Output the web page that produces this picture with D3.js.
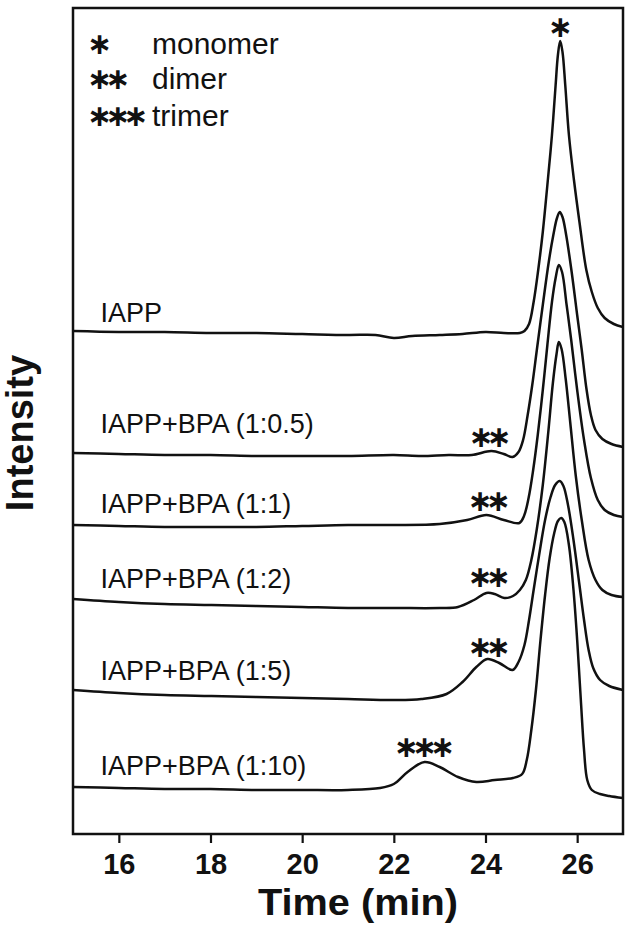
<!DOCTYPE html>
<html>
<head>
<meta charset="utf-8">
<script src="https://cdn.jsdelivr.net/npm/d3@7"></script>
<style>
  body { margin: 0; background: #fff; }
  text { font-family: "Liberation Sans", Arial, sans-serif; fill: #111; }
</style>
</head>
<body>
<div id="chart"></div>
<script>
// chromatogram traces, [time (min), intensity (a.u., stacked offset)]
const seriesNames = ["IAPP", "IAPP+BPA (1:0.5)", "IAPP+BPA (1:1)", "IAPP+BPA (1:2)", "IAPP+BPA (1:5)", "IAPP+BPA (1:10)"];

const iapp = [[15,50.3],[16,50.2],[17,50.2],[18,50.1],[19,50.1],[20,50.0],[21,49.9],[21.6,49.9],[22,49.6],[22.4,49.8],[23,49.9],[23.5,50.0],[24,50.2],[24.4,50.1],[24.75,50.1],[24.85,50.3],[24.95,51.0],[25.05,53.2],[25.15,56.4],[25.25,60.2],[25.35,64.9],[25.45,69.9],[25.53,74.9],[25.58,77.9],[25.63,79.3],[25.68,78.2],[25.74,74.9],[25.82,69.9],[25.93,65.4],[26.05,61.2],[26.2,56.4],[26.32,54.2],[26.45,52.6],[26.6,51.6],[26.8,51.0],[27,50.7]];

const bpa05 = [[15,38.1],[16,38.0],[17,37.9],[18,37.9],[19,37.8],[20,37.8],[21,37.8],[22,37.9],[22.6,37.8],[23.2,37.9],[23.7,37.9],[24.13,38.3],[24.4,38.0],[24.59,37.7],[24.72,38.2],[24.82,39.4],[24.92,41.9],[25.02,44.9],[25.12,48.4],[25.25,52.9],[25.38,57.2],[25.48,59.9],[25.56,61.6],[25.62,62.2],[25.68,61.7],[25.76,59.9],[25.88,56.2],[26,51.9],[26.1,48.4],[26.2,44.6],[26.3,41.9],[26.4,40.4],[26.55,39.5],[26.75,39.0],[27,38.7]];

const bpa1 = [[15,30.9],[16,30.8],[17,30.7],[18,30.7],[19,30.7],[20,30.8],[21,30.9],[22,30.9],[23,31.0],[23.6,31.4],[24.02,31.9],[24.4,31.4],[24.74,31.1],[24.84,31.8],[24.94,33.6],[25.04,36.4],[25.14,39.9],[25.25,44.4],[25.35,48.9],[25.45,53.2],[25.53,55.6],[25.6,56.9],[25.67,56.2],[25.77,52.9],[25.87,49.4],[26,44.4],[26.15,39.4],[26.3,35.6],[26.45,33.4],[26.6,32.4],[26.8,31.9],[27,31.7]];

const bpa2 = [[15,23.5],[16,23.2],[17,23.0],[18,22.9],[19,22.8],[20,22.7],[21,22.6],[22,22.6],[23,22.6],[23.4,22.7],[23.75,23.4],[24.02,24.1],[24.2,24.0],[24.41,23.6],[24.6,23.8],[24.75,24.4],[24.88,25.4],[25,27.4],[25.12,30.5],[25.25,34.9],[25.37,40.2],[25.47,45.1],[25.55,48.0],[25.6,49.2],[25.66,48.5],[25.75,45.5],[25.85,41.1],[25.97,35.8],[26.1,31.4],[26.25,27.4],[26.4,25.4],[26.55,24.4],[26.75,23.9],[27,23.7]];

const bpa5 = [[15,14.4],[16,14.1],[17,13.9],[18,13.8],[19,13.7],[20,13.6],[21,13.5],[22,13.4],[22.6,13.5],[23.15,14.0],[23.5,15.2],[23.8,16.7],[24.04,17.5],[24.3,17.1],[24.59,16.4],[24.72,17.2],[24.85,18.9],[24.95,21.4],[25.05,24.4],[25.17,27.9],[25.3,31.4],[25.42,33.7],[25.52,34.9],[25.62,35.3],[25.7,34.8],[25.8,32.9],[25.92,29.4],[26.05,24.9],[26.15,21.4],[26.25,18.4],[26.35,16.6],[26.5,15.4],[26.7,14.8],[27,14.4]];

const bpa10 = [[15,4.7],[16,4.6],[17,4.5],[18,4.5],[19,4.4],[20,4.4],[21,4.4],[21.7,4.6],[22,5.0],[22.3,6.2],[22.67,7.2],[23,6.7],[23.4,5.7],[23.8,5.2],[24.2,5.4],[24.6,5.6],[24.8,6.0],[24.9,7.4],[25,10.4],[25.1,14.4],[25.2,19.4],[25.3,23.9],[25.4,27.6],[25.5,30.1],[25.58,31.3],[25.65,31.6],[25.72,31.2],[25.82,28.9],[25.92,24.4],[26,19.4],[26.08,13.4],[26.15,8.4],[26.22,5.4],[26.32,4.4],[26.5,4.0],[26.7,3.8],[27,3.6]];

const series = [iapp, bpa05, bpa1, bpa2, bpa5, bpa10];

// where each trace's name sits (time, intensity of text baseline)
const labelAnchors = [[15.6,51.2],[15.6,40.1],[15.6,32.1],[15.6,24.6],[15.6,15.4],[15.6,5.9]];

// peak markers (time, intensity of glyph centre)
const peakMarks = [["∗",25.63,80.6],["∗∗",24.1,39.6],["∗∗",24.08,33.2],["∗∗",24.08,25.6],["∗∗",24.08,18.6],["∗∗∗",22.67,8.6]];

const legendMarks = ["∗", "∗∗", "∗∗∗"];
const legendNames = ["monomer", "dimer", "trimer"];

const xTicks = [16, 18, 20, 22, 24, 26];

const width = 633, height = 936;
const margin = { top: 8, right: 10, bottom: 102, left: 73 };
const plotW = width - margin.left - margin.right;
const plotH = height - margin.top - margin.bottom;

const xScale = d3.scaleLinear().domain([15, 27]).range([0, plotW]);
const yScale = d3.scaleLinear().domain([0, 82.6]).range([plotH, 0]);

const svg = d3.select("#chart").append("svg")
    .attr("width", width)
    .attr("height", height);

const g = svg.append("g")
    .attr("transform", "translate(" + margin.left + "," + margin.top + ")");

g.append("clipPath").attr("id", "plotclip")
    .append("rect").attr("width", plotW).attr("height", plotH);

// x axis
const xAxis = g.append("g")
    .attr("transform", "translate(0," + plotH + ")")
    .call(d3.axisBottom(xScale).tickValues(xTicks).tickSize(9).tickSizeOuter(0).tickPadding(10));
xAxis.select(".domain").remove();
xAxis.selectAll(".tick line").attr("stroke", "#111").attr("stroke-width", 2.2);
xAxis.selectAll(".tick text")
    .style("font-family", "'Liberation Sans', Arial, sans-serif")
    .style("font-size", "29px").style("font-weight", "bold").attr("fill", "#111");

var line = d3.line()
    .x(d => xScale(d[0]))
    .y(d => yScale(d[1]))
    .curve(d3.curveCatmullRom.alpha(0.5));

g.append("g").attr("clip-path", "url(#plotclip)")
    .selectAll("path")
    .data(series)
    .join("path")
    .attr("d", line)
    .attr("fill", "none")
    .attr("stroke", "#111")
    .attr("stroke-width", 2.5)
    .attr("stroke-linejoin", "round");

// frame
g.append("rect")
    .attr("width", plotW).attr("height", plotH)
    .attr("fill", "none").attr("stroke", "#111").attr("stroke-width", 2.5);

// trace names
g.selectAll("text.name")
    .data(seriesNames)
    .join("text")
    .attr("class", "name")
    .attr("x", (d, i) => xScale(labelAnchors[i][0]))
    .attr("y", (d, i) => yScale(labelAnchors[i][1]))
    .style("font-size", "27px")
    .text(d => d);

// asterisks: DejaVu's six-armed glyph, centred about 0.3em above the baseline
const starSize = 30, starGap = -7;
function starText(sel) {
    sel.style("font-family", "'DejaVu Sans', sans-serif")
        .style("font-size", starSize + "px")
        .style("font-weight", "bold")
        .style("letter-spacing", starGap + "px");
}

g.selectAll("text.peak")
    .data(peakMarks)
    .join("text")
    .attr("class", "peak")
    .attr("x", d => xScale(d[1]) + starGap / 2)
    .attr("y", d => yScale(d[2]) + starSize * 0.3)
    .attr("text-anchor", "middle")
    .call(starText)
    .text(d => d[0]);

// legend
const legendRows = [37, 72, 109];
g.selectAll("text.legmark")
    .data(legendMarks)
    .join("text")
    .attr("class", "legmark")
    .attr("x", 14)
    .attr("y", (d, i) => legendRows[i] + starSize * 0.3)
    .call(starText)
    .text(d => d);

g.selectAll("text.legname")
    .data(legendNames)
    .join("text")
    .attr("class", "legname")
    .attr("x", 79)
    .attr("y", (d, i) => legendRows[i] + 8.5)
    .style("font-size", "30px")
    .text(d => d);

// axis titles
g.append("text")
    .attr("x", 285).attr("y", plotH + 81)
    .attr("text-anchor", "middle")
    .attr("textLength", 200).attr("lengthAdjust", "spacingAndGlyphs")
    .style("font-size", "36px").style("font-weight", "bold")
    .text("Time (min)");

g.append("text")
    .attr("transform", "translate(-40," + (plotH / 2 + 12) + ") rotate(-90)")
    .attr("text-anchor", "middle")
    .style("font-size", "38px").style("font-weight", "bold")
    .text("Intensity");
</script>
</body>
</html>
